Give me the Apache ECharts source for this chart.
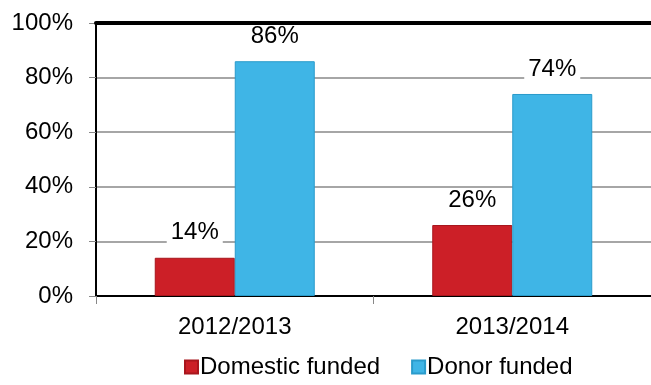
<!DOCTYPE html>
<html><head><meta charset="utf-8">
<script src="https://cdn.jsdelivr.net/npm/echarts@6/dist/echarts.min.js"></script>
<style>html,body{margin:0;padding:0;background:#fff}#c{width:651px;height:385px}</style>
</head><body><div id="c"></div>
<script>
var categories = ['2012/2013', '2013/2014'];
var domestic = [14, 26];
var donor = [86, 74];
var yTicks = [0, 20, 40, 60, 80, 100];

var chart = echarts.init(document.getElementById('c'), null, {renderer: 'canvas'});
var font = 'Liberation Sans, Arial, sans-serif';
function lbl() {
  return {show: true, position: 'top', distance: 13, formatter: '{c}%', color: '#000',
          fontSize: 24, fontFamily: font, backgroundColor: '#fff', padding: [0, 4]};
}
chart.setOption({
  animation: false,
  grid: {left: 96, top: 23, width: 566, height: 273},
  legend: {
    top: 355, left: 184, itemWidth: 13, itemHeight: 13, itemGap: 31,
    icon: 'rect', padding: 0,
    textStyle: {fontSize: 24, fontFamily: font, color: '#000', padding: [0, 0, 0, -3]},
    data: ['Domestic funded', 'Donor funded']
  },
  xAxis: [{
    type: 'category', data: categories,
    axisLine: {lineStyle: {color: '#000', width: 2}},
    axisTick: {show: true, length: 8, lineStyle: {color: '#888'}},
    axisLabel: {fontSize: 24, fontFamily: font, color: '#000', margin: 19}
  }, {
    type: 'category', data: categories, position: 'top', z: 10,
    axisLine: {show: true, lineStyle: {color: '#000', width: 4}},
    axisTick: {show: false}, axisLabel: {show: false}
  }],
  yAxis: {
    type: 'value', min: 0, max: 100, interval: 20,
    axisLine: {show: true, lineStyle: {color: '#000', width: 2}},
    axisTick: {show: true, length: 7, lineStyle: {color: '#888'}},
    axisLabel: {formatter: function (v) { return yTicks.indexOf(v) >= 0 ? v + '%' : ''; },
                fontSize: 24, fontFamily: font, color: '#000', margin: 23},
    splitLine: {lineStyle: {color: '#a6a6a6', width: 2}}
  },
  series: [{
    name: 'Domestic funded', type: 'bar', data: domestic, barWidth: 80, barGap: '0%',
    itemStyle: {color: '#CC1F27', borderColor: '#A8161D', borderWidth: 1},
    label: lbl(), z: 3
  }, {
    name: 'Donor funded', type: 'bar', data: donor, barWidth: 80, barGap: '0%',
    itemStyle: {color: '#3FB5E6', borderColor: '#2A9BCB', borderWidth: 1},
    label: lbl(), z: 3
  }]
});
</script></body></html>
